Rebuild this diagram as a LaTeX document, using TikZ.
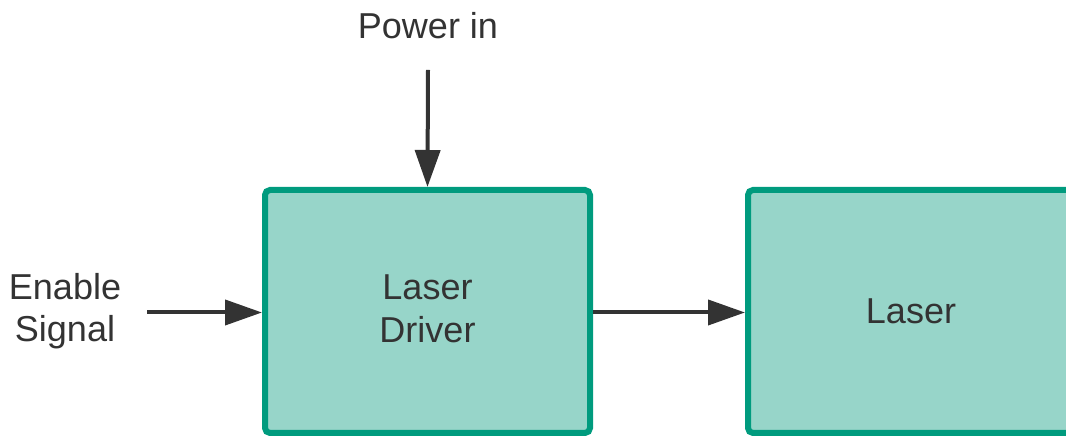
\documentclass[tikz,border=0pt]{standalone}
\usepackage{fontspec}
\setmainfont{Liberation Sans}
\usetikzlibrary{arrows.meta}

\definecolor{boxfill}{HTML}{97D5C9}
\definecolor{boxline}{HTML}{009B7E}
\definecolor{ink}{HTML}{333333}

\begin{document}
\begin{tikzpicture}[>={Triangle[length=0.74cm,width=0.5cm]}, font=\fontsize{20.5}{24}\selectfont, text=ink]
        \useasboundingbox (0,0) rectangle (21.32,8.72);
        \clip (0,0) rectangle (21.32,8.72);

        \tikzset{block/.style={draw=boxline, fill=boxfill, line width=0.12cm, rounded corners=0.1cm, minimum width=6.5cm, minimum height=4.86cm, align=center},
                 feed/.style={draw=ink, line width=0.08cm, ->}}

        \node[block] (driver) at (8.55,2.49) {Laser\\Driver\vspace{3pt}};
        \node[block, minimum width=6.52cm] (laser) at (18.22,2.49) {Laser\vspace{3pt}};

        \node (power) at (8.56,8.2) {Power in};
        \node[align=center] (enable) at (1.3,2.50) {Enable\\Signal};

        \coordinate (powerstart) at (8.56,7.32);
        \coordinate (enablestart) at (2.94,2.47);

        \draw[feed] (powerstart) -- (driver.north);
        \draw[feed] (enablestart) -- (enablestart -| driver.west);
        \draw[feed] (driver.east |- enablestart) -- (laser.west |- enablestart);
        %\draw[feed] (driver) -- (laser);
\end{tikzpicture}
\end{document}
